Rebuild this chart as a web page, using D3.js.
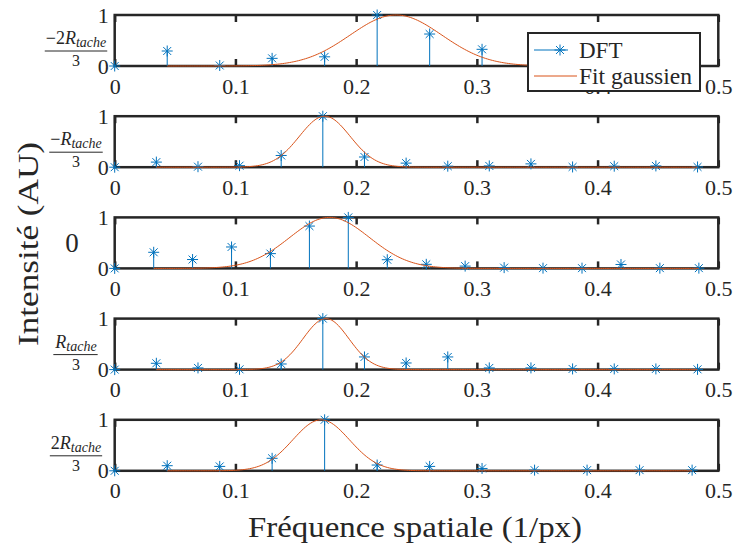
<!DOCTYPE html>
<html><head><meta charset="utf-8">
<script src="https://cdn.jsdelivr.net/npm/d3@7"></script>
<style>body{margin:0;background:#fff}</style>
</head><body>
<svg id="c" width="735" height="553"></svg>
<script>
// ---- data ----
const freq23 = [0, 0.0435, 0.087, 0.1304, 0.1739, 0.2174, 0.2609, 0.3043, 0.3478, 0.3913, 0.4348, 0.4783];
const freq29 = [0, 0.0345, 0.069, 0.1034, 0.1379, 0.1724, 0.2069, 0.2414, 0.2759, 0.3103, 0.3448, 0.3793, 0.4138, 0.4483, 0.4828];
const freq31 = [0, 0.0323, 0.0645, 0.0968, 0.129, 0.1613, 0.1935, 0.2258, 0.2581, 0.2903, 0.3226, 0.3548, 0.3871, 0.4194, 0.4516, 0.4839];

const dftA = [0, 0.294, 0.01, 0.15, 0.18, 1.0, 0.627, 0.327, 0.03, 0.01, 0.01, 0.005];
const dftB = [0, 0.10, 0.01, 0.03, 0.23, 1.0, 0.20, 0.08, 0.02, 0.025, 0.065, 0.005, 0.02, 0.025, 0.005];
const dftC = [0, 0.316, 0.174, 0.42, 0.29, 0.83, 1.0, 0.17, 0.08, 0.045, 0.015, 0.005, 0.005, 0.077, 0.005, 0.005];
const dftD = [0, 0.124, 0.033, 0.005, 0.11, 1.0, 0.248, 0.13, 0.248, 0.033, 0.033, 0.013, 0.013, 0.013, 0.005];
const dftE = [0, 0.10, 0.086, 0.245, 1.0, 0.113, 0.086, 0.046, 0.013, 0.013, 0.013, 0.013];

// gaussian fit parameters per panel
const fitAmp   = [1.0, 1.0, 1.0, 1.0, 1.0];
const fitMu    = [0.233, 0.174, 0.178, 0.175, 0.171];
const fitSigma = [0.038, 0.021, 0.033, 0.019, 0.0235];

const labelPrefix = ["−2", "−", null, "", "2"];   // null -> plain "0"
const xTicks = [0, 0.1, 0.2, 0.3, 0.4, 0.5];
const xTickLabels = ["0", "0.1", "0.2", "0.3", "0.4", "0.5"];
const yTicks = [0, 1];
const yTickLabels = ["0", "1"];
const seriesNames = ["DFT", "Fit gaussien"];

const panelFreqs = [freq23, freq29, freq31, freq29, freq23];
const panelValues = [dftA, dftB, dftC, dftD, dftE];

// ---- drawing ----
const svg = d3.select("#c");
const FONT = "'Liberation Serif', 'Times New Roman', serif";
const AX = "#262626", BLUE = "#0072BD", ORANGE = "#D95319";
const x = d3.scaleLinear().domain([0, 0.5]).range([114.7, 718.3]);
const panelH = 51, step = 101.2, top0 = 15;

function starPath(r) {
  const d = r * 0.72;
  return `M${-r},0L${r},0M0,${-r}L0,${r}M${-d},${-d}L${d},${d}M${-d},${d}L${d},${-d}`;
}

panelValues.forEach((vals, i) => {
  const T = top0 + i * step, B = T + panelH;
  const y = d3.scaleLinear().domain([0, 1]).range([B, T]);
  const freqs = panelFreqs[i];
  const g = svg.append("g");

  // box
  g.append("rect").attr("x", x(0)).attr("y", T).attr("width", x(0.5) - x(0)).attr("height", panelH)
    .attr("fill", "none").attr("stroke", AX).attr("stroke-width", 2.5);

  // bottom axis (ticks inward)
  const ab = g.append("g").attr("transform", `translate(0,${B})`)
    .call(d3.axisBottom(x).tickValues(xTicks).tickFormat((d, k) => xTickLabels[k]).tickSizeInner(-7).tickSizeOuter(0).tickPadding(12));
  ab.select(".domain").remove();
  ab.selectAll("line").attr("stroke", AX).attr("stroke-width", 2.5);
  ab.selectAll("text").attr("font-family", FONT).attr("font-size", 22).attr("fill", AX);

  const at = g.append("g").attr("transform", `translate(0,${T})`)
    .call(d3.axisTop(x).tickValues(xTicks).tickFormat("").tickSizeInner(-7).tickSizeOuter(0));
  at.select(".domain").remove();
  at.selectAll("line").attr("stroke", AX).attr("stroke-width", 2.5);

  // left axis labels
  const al = g.append("g").attr("transform", `translate(${x(0)},0)`)
    .call(d3.axisLeft(y).tickValues(yTicks).tickFormat((d, k) => yTickLabels[k]).tickSizeInner(0).tickSizeOuter(0).tickPadding(6));
  al.select(".domain").remove();
  al.selectAll("line").remove();
  al.selectAll("text").attr("font-family", FONT).attr("font-size", 22).attr("fill", AX);

  // stems
  g.selectAll(".stem").data(vals).join("line")
    .attr("x1", (d, k) => x(freqs[k])).attr("x2", (d, k) => x(freqs[k]))
    .attr("y1", y(0)).attr("y2", d => y(d))
    .attr("stroke", BLUE).attr("stroke-width", 1);
  g.selectAll(".star").data(vals).join("path")
    .attr("transform", (d, k) => `translate(${x(freqs[k])},${y(d)})`)
    .attr("d", starPath(5.5)).attr("fill", "none").attr("stroke", BLUE).attr("stroke-width", 1);

  // gaussian fit
  const f0 = freqs[1], f1 = freqs[freqs.length - 1];
  const samples = d3.range(0, 301).map(j => f0 + (f1 - f0) * j / 300);
  const fit = f => fitAmp[i] * Math.exp(-((f - fitMu[i]) ** 2) / (2 * fitSigma[i] ** 2));
  g.append("path").datum(samples)
    .attr("d", d3.line().x(f => x(f)).y(f => y(fit(f))))
    .attr("fill", "none").attr("stroke", ORANGE).attr("stroke-width", 1);

  // panel label
  const cx = 76;
  if (labelPrefix[i] === null) {
    g.append("text").attr("x", 72).attr("y", (T + B) / 2 + 9).attr("text-anchor", "middle")
      .attr("font-family", FONT).attr("font-size", 27).attr("fill", AX).text("0");
  } else {
    const num = g.append("text").attr("x", cx).attr("y", T + 29).attr("text-anchor", "middle")
      .attr("font-family", FONT).attr("font-size", 18).attr("fill", AX);
    num.append("tspan").text(labelPrefix[i]);
    num.append("tspan").attr("font-style", "italic").text("R");
    num.append("tspan").attr("font-style", "italic").attr("font-size", 14).attr("dy", 3).text("tache");
    const bb = num.node().getBBox();
    g.append("line").attr("x1", bb.x - 1).attr("x2", bb.x + bb.width + 1).attr("y1", T + 36).attr("y2", T + 36)
      .attr("stroke", AX).attr("stroke-width", 1);
    g.append("text").attr("x", cx).attr("y", T + 51).attr("text-anchor", "middle")
      .attr("font-family", FONT).attr("font-size", 16).attr("fill", AX).text("3");
  }
});

// legend
const lg = svg.append("g");
lg.append("rect").attr("x", 528).attr("y", 33).attr("width", 172).attr("height", 58)
  .attr("fill", "#fff").attr("stroke", AX).attr("stroke-width", 2);
lg.append("line").attr("x1", 534).attr("x2", 568).attr("y1", 50).attr("y2", 50).attr("stroke", BLUE).attr("stroke-width", 1);
lg.append("path").attr("transform", "translate(560,50)").attr("d", starPath(5.5)).attr("fill", "none").attr("stroke", BLUE);
lg.append("line").attr("x1", 534).attr("x2", 577).attr("y1", 76).attr("y2", 76).attr("stroke", ORANGE).attr("stroke-width", 1);
lg.append("text").attr("x", 579).attr("y", 58).attr("font-family", FONT).attr("font-size", 23).attr("fill", AX).text(seriesNames[0]);
lg.append("text").attr("x", 579).attr("y", 84).attr("font-family", FONT).attr("font-size", 23).attr("fill", AX)
  .attr("textLength", 113).attr("lengthAdjust", "spacingAndGlyphs").text(seriesNames[1]);

// axis titles
svg.append("text").attr("transform", "translate(38,244) rotate(-90)").attr("text-anchor", "middle")
  .attr("font-family", FONT).attr("font-size", 30).attr("fill", AX)
  .attr("textLength", 204).attr("lengthAdjust", "spacingAndGlyphs").text("Intensité (AU)");
svg.append("text").attr("x", 415).attr("y", 537).attr("text-anchor", "middle")
  .attr("font-family", FONT).attr("font-size", 30).attr("fill", AX)
  .attr("textLength", 334).attr("lengthAdjust", "spacingAndGlyphs").text("Fréquence spatiale (1/px)");
</script>
</body></html>
